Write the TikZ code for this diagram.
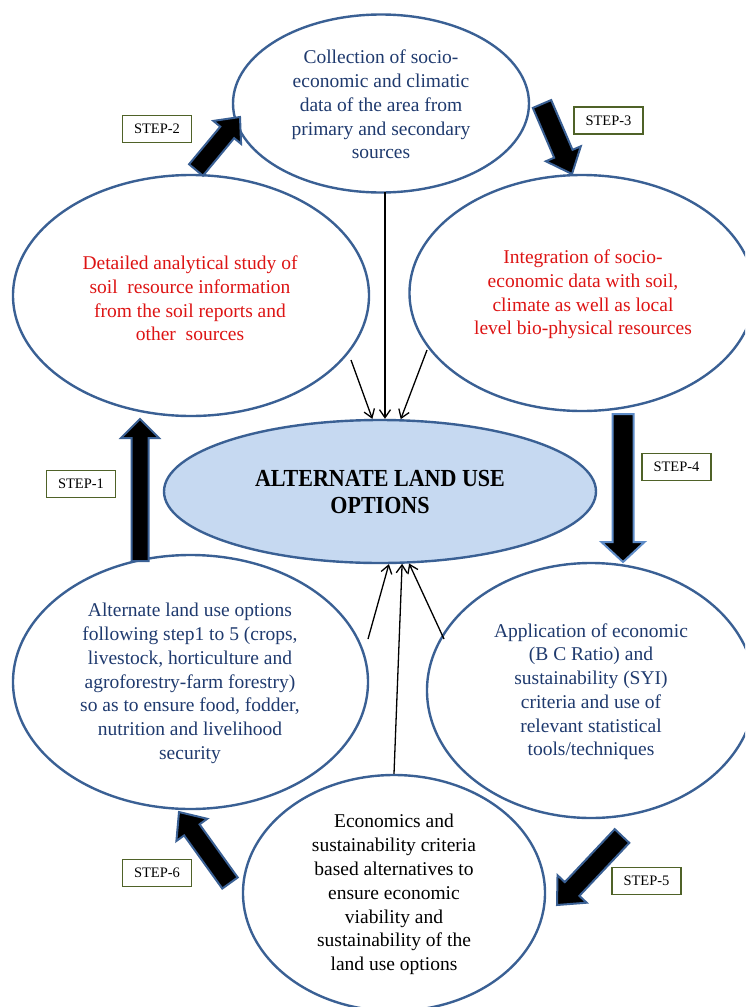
\documentclass[tikz,border=0pt]{standalone}
\usepackage{fontspec}
\setmainfont{Liberation Serif}
\newfontfamily\titlefont[FakeStretch=0.9]{Liberation Serif}
\usetikzlibrary{shapes.geometric,arrows.meta,calc}
\definecolor{ellblue}{HTML}{3A6094}
\definecolor{arrblue}{HTML}{3A6094}
\definecolor{arrlight}{HTML}{5E8CC8}
\definecolor{ctrfill}{HTML}{C6D9F1}
\definecolor{navytxt}{HTML}{1F3A6E}
\definecolor{redtxt}{HTML}{DD1414}
\definecolor{olivebox}{HTML}{4F6228}
\tikzset{
  ell/.style={ellipse, draw=ellblue, line width=2.4pt, inner sep=0pt},
  txt/.style={align=center, font=\fontsize{19.5}{23.8}\selectfont, inner sep=0pt},
  stepbox/.style={draw=olivebox, line width=1.3pt, minimum width=69pt, minimum height=27pt,
    inner sep=0pt, font=\fontsize{14.5}{16}\selectfont, fill=white},
  thinarrow/.style={-{Straight Barb[length=8pt,width=11pt]}, line width=1.3pt},
  barrow/.style={fill=black, draw=arrblue, line width=2pt, line join=miter}
}
\newcommand\blockarrow[7][arrblue]{%
  \coordinate (#2h) at ($(#4)!#7!(#3)$);
  \draw[barrow, draw=#1] ($(#3)!#5!90:(#4)$) -- ($(#2h)!#5!-90:(#3)$) -- ($(#2h)!#6!-90:(#3)$)
    -- (#4) -- ($(#2h)!#6!90:(#3)$) -- ($(#2h)!#5!90:(#3)$) -- ($(#3)!#5!-90:(#4)$) -- cycle;}
\begin{document}
\begin{tikzpicture}[x=1pt,y=-1pt]
\useasboundingbox (0,0) rectangle (745,1007);
\clip (0,0) rectangle (745,1007);

% ellipses
\node[ell, minimum width=296pt, minimum height=178pt] (top) at (381,103.5) {};
\node[ell, minimum width=356pt, minimum height=241pt] (left) at (191,295.5) {};
\node[ell, minimum width=345pt, minimum height=236pt] (right) at (582,293) {};
\node[ell, fill=ctrfill, minimum width=432pt, minimum height=143pt] (ctr) at (380,491.5) {};
\node[ell, minimum width=355pt, minimum height=254pt] (bl) at (190.5,682) {};
\node[ell, minimum width=328pt, minimum height=255pt] (br) at (591,690.5) {};
\node[ell, minimum width=302pt, minimum height=236pt] (bot) at (394,893) {};

% texts
\node[txt, text=navytxt] (topt) at (381,104.5) {Collection of socio-\\economic and climatic\\data of the area from\\primary and secondary\\sources};
\node[txt, text=redtxt] (leftt) at (190,298.5) {Detailed analytical study of\\soil~ resource information\\from the soil reports and\\other~ sources};
\node[txt, text=redtxt] (rightt) at (583,294.5) {Integration of socio-\\economic data with soil,\\climate as well as local\\level bio-physical resources};
\node[txt, font=\titlefont\fontsize{24.5}{26.5}\selectfont\bfseries] (ctrt) at (380,492) {ALTERNATE LAND USE\\OPTIONS};
\node[txt, text=navytxt] (blt) at (190,683.5) {Alternate land use options\\following step1 to 5 (crops,\\livestock, horticulture and\\agroforestry-farm forestry)\\so as to ensure food, fodder,\\nutrition and livelihood\\security};
\node[txt, text=navytxt] (brt) at (591,691.7) {Application of economic\\(B C Ratio) and\\sustainability (SYI)\\criteria and use of\\relevant statistical\\tools/techniques};
\node[txt] (bott) at (394,894.5) {Economics and\\sustainability criteria\\based alternatives to\\ensure economic\\viability and\\sustainability of the\\land use options};

% step labels
\node[stepbox] (st1) at (81,484) {STEP-1};
\node[stepbox] (st2) at (157,129) {STEP-2};
\node[stepbox] (st3) at (608.5,120.5) {STEP-3};
\node[stepbox] (st4) at (676.5,467) {STEP-4};
\node[stepbox] (st5) at (646.5,881) {STEP-5};
\node[stepbox] (st6) at (157,873) {STEP-6};

% block arrows
\coordinate (s1a) at (140,561); \coordinate (s1b) at (140,419);
\coordinate (s2a) at (196,170); \coordinate (s2b) at (240,117);
\coordinate (s3a) at (542,104); \coordinate (s3b) at (572,174);
\coordinate (s4a) at (623,414); \coordinate (s4b) at (623,562);
\coordinate (s5a) at (622,836); \coordinate (s5b) at (557,905);
\coordinate (s6a) at (230,883); \coordinate (s6b) at (179,812);
\blockarrow{s1}{s1a}{s1b}{8.5pt}{19pt}{19pt}
\blockarrow{s2}{s2a}{s2b}{9pt}{18pt}{20pt}
\blockarrow{s3}{s3a}{s3b}{10pt}{19pt}{22pt}
\blockarrow[arrlight]{s4}{s4a}{s4b}{10.5pt}{21.5pt}{20pt}
\blockarrow{s5}{s5a}{s5b}{10pt}{20pt}{22pt}
\blockarrow{s6}{s6a}{s6b}{9.5pt}{19pt}{22pt}

% thin arrows
\coordinate (t1) at (351,360);
\coordinate (t2) at (385,192);
\coordinate (t3) at (427,350);
\coordinate (b1) at (368,639);
\coordinate (b3) at (444,639);
\draw[thinarrow] (t1) -- (ctr.96);
\draw[thinarrow] (t2) -- (t2 |- ctr.north);
\draw[thinarrow] (t3) -- (ctr.74);
\draw[thinarrow] (b1) -- (ctr.-83);
\draw[thinarrow] (bot.north) -- (ctr.-73);
\draw[thinarrow] (b3) -- (ctr.-68);
\end{tikzpicture}
\end{document}
